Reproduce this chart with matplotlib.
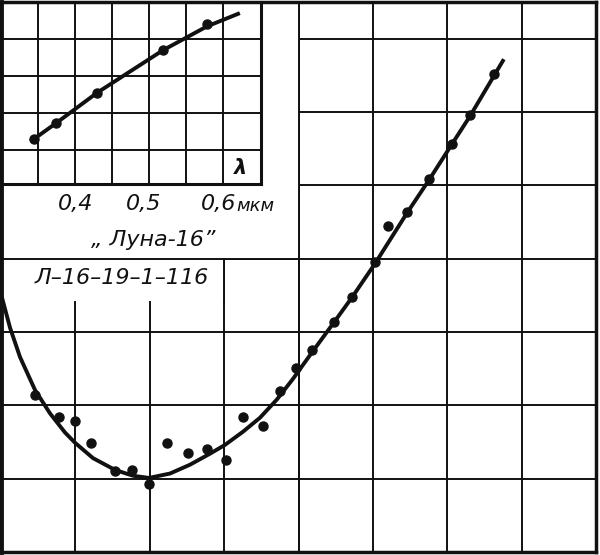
import matplotlib
matplotlib.use("Agg")
import matplotlib.pyplot as plt
from matplotlib.patches import Rectangle

# main plot, in grid-cell units
main_pts_x = [0.46, 0.78, 1.00, 1.21, 1.53, 1.76, 1.99, 2.23, 2.51, 2.77, 3.02, 3.25,
              3.52, 3.75, 3.97, 4.18, 4.48, 4.72, 5.03, 5.21, 5.46, 5.75, 6.06, 6.30, 6.63]
main_pts_y = [2.14, 1.84, 1.78, 1.48, 1.11, 1.12, 0.93, 1.48, 1.35, 1.41, 1.26, 1.84,
              1.72, 2.19, 2.51, 2.75, 3.14, 3.48, 3.95, 4.44, 4.63, 5.08, 5.57, 5.96, 6.52]

main_curve_x = [0.013, 0.121, 0.255, 0.457, 0.659, 0.860, 0.995, 1.237, 1.532, 1.774,
                1.989, 2.272, 2.540, 2.809, 3.011, 3.253, 3.481, 3.710, 3.925, 4.180,
                4.476, 4.718, 5.027, 5.457, 5.753, 6.062, 6.304, 6.626, 6.761]
main_curve_y = [3.47, 3.06, 2.66, 2.21, 1.89, 1.63, 1.49, 1.28, 1.12, 1.04,
                1.01, 1.07, 1.19, 1.34, 1.46, 1.64, 1.83, 2.08, 2.36, 2.72,
                3.13, 3.47, 3.93, 4.62, 5.07, 5.56, 5.94, 6.49, 6.72]

# inset: wavelength (mkm) vs value
inset_pts_x = [0.345, 0.374, 0.430, 0.519, 0.578]
inset_pts_y = [1.29, 1.72, 2.55, 3.70, 4.40]
inset_curve_x = [0.342, 0.374, 0.430, 0.519, 0.578, 0.620]
inset_curve_y = [1.26, 1.72, 2.55, 3.70, 4.34, 4.68]
inset_ticks = ["0,4", "0,5", "0,6"]

ink = "#111111"
fig = plt.figure(figsize=(6, 5.55), dpi=100)
fig.patch.set_facecolor("white")

ax = fig.add_axes([1 / 600, 3 / 555, 595 / 600, 550 / 555])
ax.set_xlim(0, 8)
ax.set_ylim(0, 7.5)
ax.set_xticks([])
ax.set_yticks([])
for s in ax.spines.values():
    s.set_linewidth(2.5)
    s.set_color(ink)
ax.spines["left"].set_linewidth(3.5)

for gx in range(1, 8):
    ax.axvline(gx, color=ink, lw=1.4, zorder=1)
for gy in range(1, 8):
    ax.axhline(gy, color=ink, lw=1.4, zorder=1)

# white areas for the inset and the captions, then the lines bordering them
ax.add_patch(Rectangle((0, 4.0), 4.0, 3.6, facecolor="white", edgecolor="none", zorder=1.5))
ax.add_patch(Rectangle((0, 3.42), 3.0, 0.6, facecolor="white", edgecolor="none", zorder=1.5))
ax.plot([0, 4], [4, 4], color=ink, lw=1.4, zorder=2)
ax.plot([4, 4], [0, 7.5], color=ink, lw=1.4, zorder=2)
ax.plot([3, 3], [3.4, 4], color=ink, lw=1.4, zorder=2)

ax.plot(main_curve_x, main_curve_y, color=ink, lw=2.8, zorder=3,
        solid_joinstyle="round", solid_capstyle="butt")
ax.plot(main_pts_x, main_pts_y, "o", color=ink, ms=6.5, zorder=4)

txt = dict(color=ink, style="italic", family="DejaVu Sans", zorder=5)
ax.text(1.00, 4.74, inset_ticks[0], ha="center", va="center", fontsize=16, **txt)
ax.text(1.92, 4.74, inset_ticks[1], ha="center", va="center", fontsize=16, **txt)
ax.text(2.93, 4.74, inset_ticks[2], ha="center", va="center", fontsize=16, **txt)
ax.text(3.16, 4.72, "мкм", ha="left", va="center", fontsize=13, **txt)
ax.text(2.04, 4.26, "„ Луна-16”", ha="center", va="center", fontsize=16, **txt)
ax.text(1.63, 3.74, "Л–16–19–1–116", ha="center", va="center", fontsize=16, **txt)

ins = fig.add_axes([1 / 600, (555 - 184) / 555, 260 / 600, 182 / 555])
ins.set_xlim(0.3, 0.651)
ins.set_ylim(0.08, 5.0)
ins.set_xticks([])
ins.set_yticks([])
ins.patch.set_alpha(0)
for s in ins.spines.values():
    s.set_linewidth(2.2)
    s.set_color(ink)
ins.spines["left"].set_visible(False)
ins.spines["top"].set_visible(False)
for k in range(1, 7):
    ins.axvline(0.3 + 0.05 * k, color=ink, lw=1.4, zorder=1)
for gy in range(1, 5):
    ins.axhline(gy, color=ink, lw=1.4, zorder=1)
ins.plot(inset_curve_x, inset_curve_y, color=ink, lw=2.8, zorder=3, solid_joinstyle="round")
ins.plot(inset_pts_x, inset_pts_y, "o", color=ink, ms=6.5, zorder=4)
ins.text(0.624, 0.5, "λ", ha="center", va="center", fontsize=15, fontweight="bold", **txt)

fig.savefig("out.png", dpi=100, facecolor="white")
